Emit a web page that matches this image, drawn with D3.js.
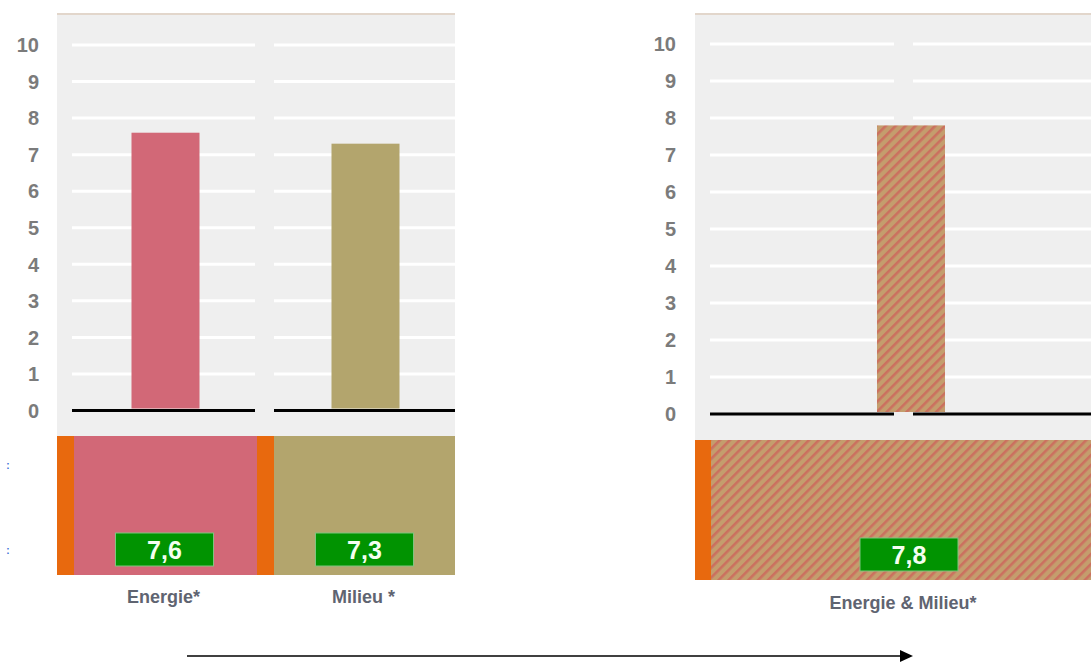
<!DOCTYPE html>
<html>
<head>
<meta charset="utf-8">
<script src="https://cdn.jsdelivr.net/npm/d3@7"></script>
<style>
  body { margin: 0; background: #fff; }
  svg { display: block; font-family: "Liberation Sans", Arial, sans-serif; }
</style>
</head>
<body>
<svg id="chart" width="1091" height="662"></svg>
<script>
// data
const yTicks = [0, 1, 2, 3, 4, 5, 6, 7, 8, 9, 10];
const leftCategories = ["Energie*", "Milieu *"];
const leftScores = [7.6, 7.3];
const rightCategories = ["Energie & Milieu*"];
const rightScores = [7.8];

const nl = d3.formatLocale({ decimal: ",", thousands: ".", grouping: [3], currency: ["€", ""] });
const fmt = nl.format(".1f");

const color = d3.scaleOrdinal()
    .domain(leftCategories)
    .range(["#d26877", "#b3a56d"]);

const svg = d3.select("#chart");

const defs = svg.append("defs");
const hatch = defs.append("pattern")
    .attr("id", "hatch")
    .attr("patternUnits", "userSpaceOnUse")
    .attr("width", 7)
    .attr("height", 7)
    .attr("patternTransform", "rotate(45)");
hatch.append("rect").attr("width", 7).attr("height", 7).attr("fill", "#c49d6d");
hatch.append("rect").attr("width", 2.6).attr("height", 7).attr("fill", "#cb705f");

// grey panel + axis + grid, returns y scale
function panel(x0, x1, top, bottom, y0, y10, labelX, gridW) {
    const y = d3.scaleLinear().domain([0, 10]).range([y0, y10]);
    const g = svg.append("g");

    g.append("rect")
        .attr("x", x0).attr("y", top)
        .attr("width", x1 - x0).attr("height", bottom - top)
        .attr("fill", "#efefef");
    g.append("rect")
        .attr("x", x0).attr("y", top)
        .attr("width", x1 - x0).attr("height", 2)
        .attr("fill", "#e2d6cb");

    const cols = d3.scaleBand().domain([0, 1]).range([x0, x0 + gridW]);

    cols.domain().forEach(c => {
        g.selectAll(null)
            .data(yTicks)
            .join("line")
            .attr("x1", cols(c) + (c === 0 ? 15 : 17))
            .attr("x2", Math.min(cols(c) + cols.bandwidth() - 2, x1))
            .attr("y1", d => y(d))
            .attr("y2", d => y(d))
            .attr("stroke", d => d === 0 ? "#000" : "#fff")
            .attr("stroke-width", 3);
    });

    g.selectAll(null)
        .data(yTicks)
        .join("text")
        .attr("x", labelX)
        .attr("y", d => y(d))
        .attr("dy", "0.36em")
        .attr("text-anchor", "end")
        .attr("font-size", 20)
        .attr("font-weight", "bold")
        .attr("fill", "#7b7b7b")
        .text(d => d);

    return y;
}

function scoreBox(cx, yTop, value) {
    svg.append("rect")
        .attr("x", cx - 49).attr("y", yTop)
        .attr("width", 98).attr("height", 33)
        .attr("fill", "#019301")
        .attr("stroke", "#7fc47f")
        .attr("stroke-width", 1);
    svg.append("text")
        .attr("x", cx).attr("y", yTop + 26)
        .attr("text-anchor", "middle")
        .attr("font-size", 25)
        .attr("font-weight", "bold")
        .attr("fill", "#f4fff0")
        .text(fmt(value));
}

function catLabel(cx, y, text) {
    svg.append("text")
        .attr("x", cx).attr("y", y)
        .attr("text-anchor", "middle")
        .attr("font-size", 18)
        .attr("font-weight", "bold")
        .attr("fill", "#5f6471")
        .text(text);
}

// left panel
const yL = panel(57, 455, 13, 436, 410.5, 45, 39, 400);
const xL = d3.scaleBand().domain(leftCategories).range([57, 457]);
const strip = 17;
const centerL = c => xL(c) + strip + (xL.bandwidth() - strip) / 2;

leftCategories.forEach((c, i) => {
    const cx = centerL(c);
    svg.append("rect")
        .attr("x", cx - 34).attr("y", yL(leftScores[i]))
        .attr("width", 68).attr("height", yL(0) - 2 - yL(leftScores[i]))
        .attr("fill", color(c));

    svg.append("rect")
        .attr("x", xL(c)).attr("y", 436)
        .attr("width", Math.min(xL.bandwidth(), 455 - xL(c))).attr("height", 139)
        .attr("fill", color(c));
    svg.append("rect")
        .attr("x", xL(c)).attr("y", 436)
        .attr("width", strip).attr("height", 139)
        .attr("fill", "#e8690e");

    scoreBox(cx - 1, 533, leftScores[i]);
    catLabel(cx - 2, 603, c);
});

// right panel
const yR = panel(695, 1091, 13, 440, 414, 44, 676, 402);
const xR = d3.scaleBand().domain(rightCategories).range([711, 1111]);

rightCategories.forEach((c, i) => {
    const cx = xR(c) + xR.bandwidth() / 2;
    svg.append("rect")
        .attr("x", cx - 34).attr("y", yR(rightScores[i]))
        .attr("width", 68).attr("height", yR(0) - 2 - yR(rightScores[i]))
        .attr("fill", "url(#hatch)");

    svg.append("rect")
        .attr("x", 695).attr("y", 440)
        .attr("width", 396).attr("height", 140)
        .attr("fill", "url(#hatch)");
    svg.append("rect")
        .attr("x", 695).attr("y", 440)
        .attr("width", 16).attr("height", 140)
        .attr("fill", "#e8690e");

    scoreBox(cx - 2, 538, rightScores[i]);
    catLabel(cx - 8, 609, c);
});

// small marks at the left edge
[465, 550].forEach(yy => {
    svg.append("text")
        .attr("x", 8).attr("y", yy + 4)
        .attr("font-size", 10)
        .attr("font-weight", "bold")
        .attr("fill", "#3a6fd8")
        .attr("text-anchor", "middle")
        .text(":");
});

// arrow
svg.append("line")
    .attr("x1", 187).attr("x2", 902)
    .attr("y1", 656).attr("y2", 656)
    .attr("stroke", "#000")
    .attr("stroke-width", 1.6);
svg.append("path")
    .attr("d", "M900,650 L913,656 L900,662 Z")
    .attr("fill", "#000");
</script>
</body>
</html>
